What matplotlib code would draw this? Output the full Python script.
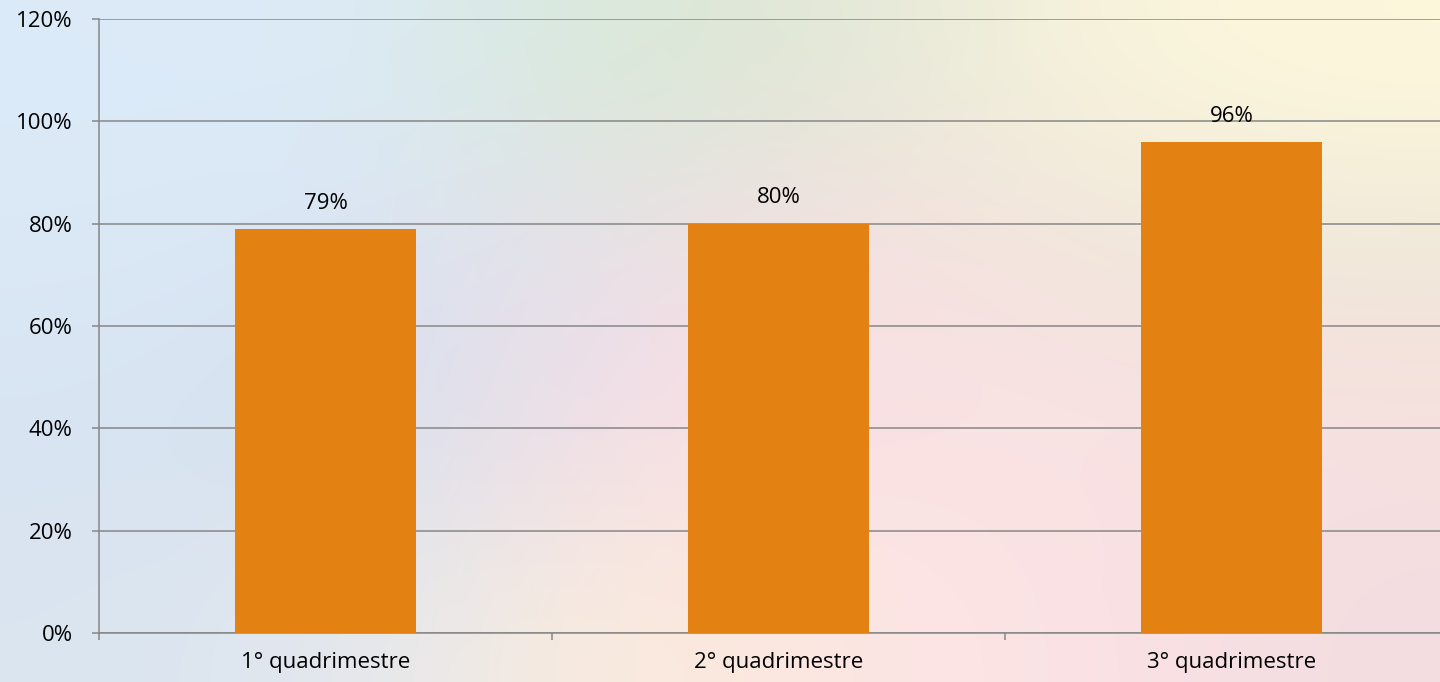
import numpy as np
import matplotlib.pyplot as plt
from matplotlib.colors import to_rgb
from matplotlib.ticker import FixedLocator, PercentFormatter

# Data
categories = ["1° quadrimestre", "2° quadrimestre", "3° quadrimestre"]
values = [79, 80, 96]

plt.rcParams["font.family"] = ["Open Sans", "DejaVu Sans"]

fig = plt.figure(figsize=(14.4, 6.82), dpi=100)

# soft blurred backdrop (approximation of the photo behind the chart)
bg_colors = [
    ["#dcebf9", "#ddebf8", "#d8e9d6", "#e2e7d8", "#f8f3dc", "#fdf8dc"],
    ["#dbe8f6", "#d8e4f3", "#e8e0e8", "#f9dfe1", "#efe5dc", "#ede7d8"],
    ["#d8e4f2", "#d3e0ee", "#f5dde6", "#fbe1e4", "#fbe2e4", "#f8e0e0"],
    ["#dae5f0", "#e4e8ef", "#fcecda", "#fbe6e2", "#fce3e6", "#f3dde0"],
]
bg = np.array([[to_rgb(c) for c in row] for row in bg_colors])
bg_ax = fig.add_axes([0, 0, 1, 1], zorder=-1)
bg_ax.imshow(bg, aspect="auto", interpolation="bicubic", extent=[0, 1, 0, 1])
bg_ax.axis("off")

ax = fig.add_axes([99 / 1440, 49 / 682, 1359 / 1440, 614 / 682])
ax.set_facecolor("none")

grid_col = "#878787"
x = np.arange(len(categories))
bars = ax.bar(x, values, width=0.4, color="#e48113", zorder=3)
ax.bar_label(bars, labels=[f"{v}%" for v in values], padding=11, fontsize=16, color="black")

ax.set_xlim(-0.5, 2.5)
ax.set_ylim(0, 120)
ax.set_yticks(np.arange(0, 121, 20))
ax.yaxis.set_major_formatter(PercentFormatter(decimals=0))
ax.grid(axis="y", color=grid_col, linewidth=1.1, zorder=1)

# ticks at category boundaries, labels in the middle
ax.xaxis.set_major_locator(FixedLocator([-0.5, 0.5, 1.5]))
ax.xaxis.set_major_formatter(plt.NullFormatter())
ax.xaxis.set_minor_locator(FixedLocator(x))
ax.set_xticklabels(categories, minor=True)
ax.tick_params(axis="x", which="major", length=5, width=1.1, color=grid_col)
ax.tick_params(axis="x", which="minor", length=0, pad=14, labelsize=16, labelcolor="black")
ax.tick_params(axis="y", length=5, width=1.1, color=grid_col, pad=14, labelsize=16, labelcolor="black")

for s in ["top", "right"]:
    ax.spines[s].set_visible(False)
for s in ["left", "bottom"]:
    ax.spines[s].set_color(grid_col)
    ax.spines[s].set_linewidth(1.1)

fig.savefig("out.png", dpi=100)
